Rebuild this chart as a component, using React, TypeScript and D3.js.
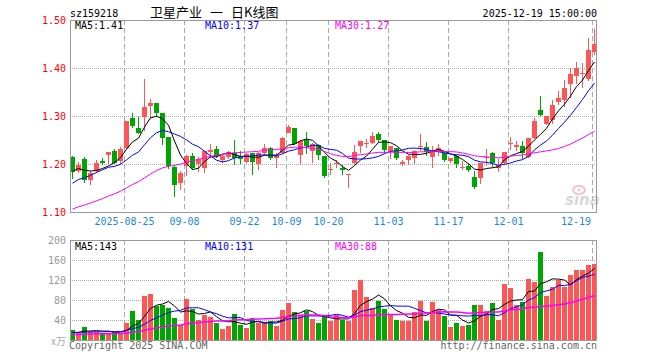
import React from "react";
import * as d3 from "d3";

const dates = ["2025-08-12","2025-08-13","2025-08-14","2025-08-15","2025-08-18","2025-08-19","2025-08-20","2025-08-21","2025-08-22","2025-08-25","2025-08-26","2025-08-27","2025-08-28","2025-08-29","2025-09-01","2025-09-02","2025-09-03","2025-09-04","2025-09-05","2025-09-08","2025-09-09","2025-09-10","2025-09-11","2025-09-12","2025-09-15","2025-09-16","2025-09-17","2025-09-18","2025-09-19","2025-09-22","2025-09-23","2025-09-24","2025-09-25","2025-09-26","2025-09-29","2025-09-30","2025-10-09","2025-10-10","2025-10-13","2025-10-14","2025-10-15","2025-10-16","2025-10-17","2025-10-20","2025-10-21","2025-10-22","2025-10-23","2025-10-24","2025-10-27","2025-10-28","2025-10-29","2025-10-30","2025-10-31","2025-11-03","2025-11-04","2025-11-05","2025-11-06","2025-11-07","2025-11-10","2025-11-11","2025-11-12","2025-11-13","2025-11-14","2025-11-17","2025-11-18","2025-11-19","2025-11-20","2025-11-21","2025-11-24","2025-11-25","2025-11-26","2025-11-27","2025-11-28","2025-12-01","2025-12-02","2025-12-03","2025-12-04","2025-12-05","2025-12-08","2025-12-09","2025-12-10","2025-12-11","2025-12-12","2025-12-15","2025-12-16","2025-12-17","2025-12-18","2025-12-19"];

const open = [1.215,1.186,1.211,1.167,1.185,1.206,1.219,1.228,1.206,1.233,1.296,1.274,1.297,1.321,1.328,1.306,1.256,1.194,1.161,1.195,1.217,1.201,1.191,1.226,1.231,1.208,1.215,1.222,1.216,1.205,1.222,1.199,1.223,1.234,1.212,1.223,1.265,1.276,1.219,1.249,1.227,1.240,1.217,1.187,1.200,1.192,1.177,1.203,1.237,1.241,1.244,1.262,1.251,1.228,1.234,1.199,1.208,1.212,1.237,1.235,1.215,1.226,1.223,1.206,1.216,1.192,1.195,1.172,1.170,1.212,1.222,1.192,1.203,1.242,1.236,1.238,1.215,1.255,1.312,1.284,1.292,1.330,1.334,1.367,1.383,1.389,1.377,1.434];
const high = [1.216,1.204,1.214,1.185,1.208,1.212,1.225,1.232,1.235,1.290,1.307,1.298,1.378,1.335,1.328,1.307,1.257,1.196,1.186,1.218,1.223,1.215,1.227,1.242,1.237,1.219,1.227,1.249,1.228,1.223,1.223,1.226,1.241,1.235,1.223,1.256,1.281,1.276,1.251,1.267,1.244,1.241,1.217,1.202,1.208,1.198,1.180,1.240,1.247,1.253,1.267,1.267,1.251,1.238,1.234,1.209,1.219,1.230,1.262,1.245,1.237,1.241,1.224,1.213,1.219,1.206,1.203,1.185,1.203,1.231,1.226,1.210,1.226,1.256,1.247,1.248,1.254,1.295,1.342,1.301,1.334,1.353,1.376,1.401,1.413,1.410,1.462,1.481];
const low = [1.169,1.182,1.160,1.157,1.182,1.197,1.199,1.199,1.201,1.231,1.275,1.262,1.269,1.294,1.297,1.239,1.190,1.132,1.146,1.174,1.187,1.183,1.181,1.213,1.213,1.202,1.210,1.198,1.201,1.203,1.178,1.188,1.219,1.209,1.192,1.220,1.265,1.240,1.201,1.220,1.203,1.209,1.170,1.177,1.192,1.177,1.149,1.201,1.222,1.233,1.241,1.245,1.223,1.210,1.208,1.195,1.198,1.199,1.227,1.216,1.192,1.216,1.205,1.202,1.191,1.187,1.184,1.147,1.159,1.195,1.194,1.183,1.199,1.230,1.228,1.210,1.212,1.253,1.299,1.281,1.283,1.322,1.319,1.338,1.366,1.358,1.373,1.428];
const close = [1.183,1.198,1.167,1.182,1.203,1.203,1.225,1.203,1.232,1.290,1.280,1.264,1.319,1.328,1.306,1.254,1.196,1.156,1.182,1.217,1.191,1.210,1.227,1.230,1.217,1.216,1.224,1.212,1.210,1.220,1.205,1.223,1.233,1.212,1.219,1.255,1.278,1.242,1.248,1.237,1.242,1.219,1.174,1.190,1.203,1.187,1.180,1.224,1.247,1.244,1.259,1.251,1.230,1.238,1.213,1.205,1.216,1.228,1.238,1.224,1.228,1.234,1.208,1.213,1.199,1.194,1.188,1.153,1.203,1.215,1.202,1.198,1.226,1.244,1.239,1.223,1.254,1.290,1.303,1.301,1.322,1.338,1.359,1.388,1.399,1.390,1.437,1.449];
const volume = [20,15,26,16,17,15,15,16,15,35,58,40,89,92,69,70,65,45,30,82,63,40,50,46,35,22,29,52,30,24,44,35,35,38,29,60,75,57,51,59,42,35,48,37,50,40,37,100,120,87,65,78,62,50,40,38,37,56,78,37,76,61,48,27,35,29,31,70,71,59,74,40,112,104,70,77,122,117,177,89,106,120,107,130,141,141,150,153];

// estimated history before the first visible day (needed for the moving averages)
const priorCloses = [1.05,1.06,1.055,1.065,1.07,1.06,1.065,1.07,1.08,1.075,1.08,1.085,1.09,1.085,1.09,1.095,1.10,1.095,1.10,1.11,1.12,1.13,1.135,1.14,1.15,1.17,1.185,1.19,1.197];
const priorVolumes = [8,9,10,8,9,7,9,10,8,9,8,9,10,9,8,9,10,9,8,10,14,16,15,15,15,13,14,15,13];

const priceTicks = [1.1, 1.2, 1.3, 1.4, 1.5];
const volumeTicks = [40, 80, 120, 160, 200];
const tickDates = ["2025-08-25","2025-09-08","2025-09-22","2025-10-09","2025-10-20","2025-11-03","2025-11-17","2025-12-01","2025-12-19"];
const tickLabels = ["2025-08-25","09-08","09-22","10-09","10-20","11-03","11-17","12-01","12-19"];
const maPeriods = [5, 10, 30];
const maColors = ["#000000", "#0000ff", "#ff00ff"];

const RED = "#ff5555";
const GREEN = "#00a600";
const MONO = "'DejaVu Sans Mono', monospace";

function movingAverage(prior: number[], vals: number[], n: number) {
  const all = [...prior, ...vals];
  const off = prior.length;
  return vals.map((_, i) => d3.mean(all.slice(off + i - n + 1, off + i + 1)) as number);
}

export default function App() {
  const L = 70, R = 597;
  const pTop = 20, pBot = 212, vTop = 240, vBot = 340;
  const x = d3.scaleBand<string>().domain(dates).range([L, L + 6 * dates.length - 1]).paddingInner(1 / 6).paddingOuter(0);
  const bw = x.bandwidth();
  const y = d3.scaleLinear().domain([1.1, 1.5]).range([pBot, pTop]);
  const yv = d3.scaleLinear().domain([0, 200]).range([vBot, vTop]);
  const cx = (d: string) => (x(d) as number) + bw / 2;

  const priceMA = maPeriods.map((n) => movingAverage(priorCloses, close, n));
  const volMA = maPeriods.map((n) => movingAverage(priorVolumes, volume, n));
  const lineP = d3.line<number>().x((_, i) => cx(dates[i])).y((v) => y(v));
  const lineV = d3.line<number>().x((_, i) => cx(dates[i])).y((v) => yv(v));

  const isUp = (i: number) => close[i] >= open[i];

  return (
    <svg width={660} height={360} style={{ display: "block", position: "absolute", left: 0, top: 0 }}>
      <rect x={0} y={0} width={660} height={360} fill="#fff" />
      {/* header */}
      <text x={70} y={17} fontFamily={MONO} fontSize={10} fill="#000">sz159218</text>
      <text x={150} y={17} fontFamily="'Noto Sans CJK SC', sans-serif" fontSize={13} fill="#000">卫星产业</text>
      <text x={210} y={17} fontFamily="'Noto Sans CJK SC', sans-serif" fontSize={13} fill="#000">一</text>
      <text x={231} y={17} fontFamily="'Noto Sans CJK SC', sans-serif" fontSize={13} fill="#000">日K线图</text>
      <text x={R} y={17} textAnchor="end" fontFamily={MONO} fontSize={10} fill="#000">2025-12-19 15:00:00</text>

      {/* horizontal grid */}
      {priceTicks.filter((t) => t > 1.1 && t < 1.5).map((t) => (
        <line key={"pg" + t} x1={L} x2={R} y1={Math.round(y(t)) + 0.5} y2={Math.round(y(t)) + 0.5} stroke="#aaa" strokeDasharray="1,1" />
      ))}
      {volumeTicks.filter((t) => t < 200).map((t) => (
        <line key={"vg" + t} x1={L} x2={R} y1={Math.round(yv(t)) + 0.5} y2={Math.round(yv(t)) + 0.5} stroke="#aaa" strokeDasharray="1,1" />
      ))}
      {/* vertical dashed grid */}
      {tickDates.map((d) => (
        <g key={"vd" + d}>
          <line x1={(x(d) as number) + 0.5} x2={(x(d) as number) + 0.5} y1={pTop} y2={pBot} stroke="#aaa" strokeDasharray="5,3" />
          <line x1={(x(d) as number) + 0.5} x2={(x(d) as number) + 0.5} y1={vTop} y2={vBot} stroke="#aaa" strokeDasharray="5,3" />
        </g>
      ))}

      {/* watermark */}
      <g opacity={0.55}>
        <ellipse cx={579} cy={190} rx={6} ry={4} fill="none" stroke="#e89a9a" strokeWidth={2} />
        <circle cx={579} cy={190} r={1.5} fill="#aaa" />
        <text x={565} y={205} fontFamily="'DejaVu Sans', sans-serif" fontStyle="italic" fontWeight="bold" fontSize={15} fill="#bbb">sina</text>
      </g>

      {/* candles */}
      {dates.map((d, i) => {
        const xl = x(d) as number;
        const top = Math.round(y(Math.max(open[i], close[i])));
        const bot = Math.round(y(Math.min(open[i], close[i])));
        const col = isUp(i) ? RED : GREEN;
        return (
          <g key={"c" + d}>
            <rect x={xl + 2} y={Math.round(y(high[i]))} width={1} height={Math.max(1, Math.round(y(low[i])) - Math.round(y(high[i])))} fill={col} />
            <rect x={xl} y={top} width={bw} height={Math.max(1, bot - top)} fill={col} />
          </g>
        );
      })}
      {/* price MAs */}
      {priceMA.map((m, k) => (
        <path key={"pm" + k} d={lineP(m) as string} fill="none" stroke={maColors[k]} strokeWidth={1} />
      ))}

      {/* volume bars */}
      {dates.map((d, i) => {
        const top = Math.round(yv(volume[i]));
        return <rect key={"v" + d} x={x(d) as number} y={top} width={bw} height={vBot - top} fill={isUp(i) ? RED : GREEN} />;
      })}
      {volMA.map((m, k) => (
        <path key={"vm" + k} d={lineV(m) as string} fill="none" stroke={maColors[k]} strokeWidth={k === 2 ? 1.5 : 1} />
      ))}

      {/* frames */}
      <rect x={L + 0.5} y={pTop + 0.5} width={R - L - 1} height={pBot - pTop} fill="none" stroke="#999" />
      <rect x={L + 0.5} y={vTop + 0.5} width={R - L - 1} height={vBot - vTop} fill="none" stroke="#999" />

      {/* MA labels */}
      {maPeriods.map((n, k) => (
        <text key={"pl" + n} x={75 + 130 * k} y={29} fontFamily={MONO} fontSize={10} fill={maColors[k]}>
          {`MA${n}:${priceMA[k][priceMA[k].length - 1].toFixed(2)}`}
        </text>
      ))}
      {maPeriods.map((n, k) => (
        <text key={"vl" + n} x={75 + 130 * k} y={250} fontFamily={MONO} fontSize={10} fill={maColors[k]}>
          {`MA${n}:${Math.round(volMA[k][volMA[k].length - 1])}`}
        </text>
      ))}

      {/* axis labels */}
      {priceTicks.map((t) => (
        <text key={"pt" + t} x={66} y={y(t) + 4} textAnchor="end" fontFamily={MONO} fontSize={10} fill="#ff0000">{t.toFixed(2)}</text>
      ))}
      {volumeTicks.map((t) => (
        <text key={"vt" + t} x={66} y={yv(t) + 4} textAnchor="end" fontFamily={MONO} fontSize={10} fill="#999">{t}</text>
      ))}
      <text x={66} y={345} textAnchor="end" fontFamily="'Noto Sans CJK SC', sans-serif" fontSize={10} fill="#aaa">x万</text>
      {tickDates.map((d, k) => {
        const w = tickLabels[k].length * 6.02;
        const c = Math.min((x(d) as number) + 0.5, R - 6 - w / 2);
        return (
          <text key={"xl" + d} x={c} y={225} textAnchor="middle" fontFamily={MONO} fontSize={10} fill="#1e88d8">{tickLabels[k]}</text>
        );
      })}

      {/* footer */}
      <text x={69} y={349} fontFamily={MONO} fontSize={10} fill="#666">Copyright 2025 SINA.COM</text>
      <text x={R} y={349} textAnchor="end" fontFamily={MONO} fontSize={10} fill="#666">http://finance.sina.com.cn</text>
    </svg>
  );
}
